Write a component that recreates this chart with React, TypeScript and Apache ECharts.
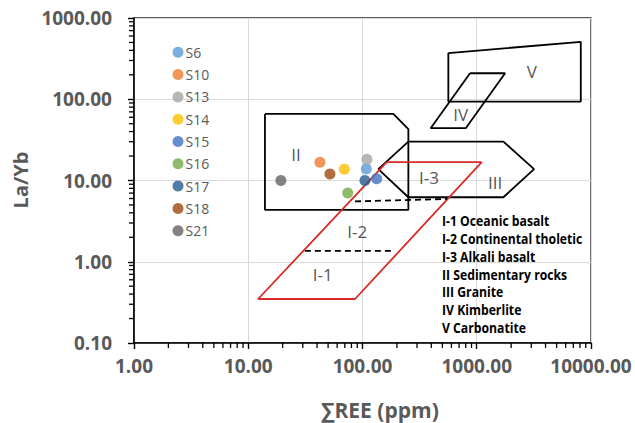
import React, { useEffect, useRef } from "react";
import * as echarts from "echarts";

// ---- sample data (ΣREE ppm, La/Yb) ----
const sampleNames = ["S6", "S10", "S13", "S14", "S15", "S16", "S17", "S18", "S21"];
const sampleREE = [108, 42.4, 109.4, 69.3, 133, 74.2, 105, 51.9, 19.3];
const sampleLaYb = [13.9, 16.8, 18.3, 13.8, 10.5, 7.0, 10.0, 12.0, 10.0];
const sampleColors = ["#5B9BD5", "#ED7D31", "#A5A5A5", "#FFC000", "#4472C4", "#70AD47", "#255E91", "#9E480E", "#636363"];

// ---- discrimination fields (vertices in ΣREE, La/Yb) ----
const fieldII = [[14.0, 66], [186, 66], [252, 42.9], [252, 4.35], [14.0, 4.35], [14.0, 66]];
const fieldIII = [[137.5, 13.8], [252, 30.1], [1710, 30.1], [3175, 13.8], [1710, 6.22], [252, 6.22], [137.5, 13.8]];
const fieldI = [[163, 16.8], [1106, 16.8], [86, 0.348], [12.2, 0.348], [163, 16.8]];
const fieldIV = [[873, 209], [1770, 209], [801, 44], [395, 44], [873, 209]];
const fieldV = [[564, 370], [8140, 509], [8140, 93.7], [564, 93.7], [564, 370]];
const dashI1I2 = [[31.3, 1.36], [186, 1.36]];
const dashI2I3 = [[86, 5.53], [550, 5.93]];

// ---- field labels ----
const fieldLabelNames = ["II", "I-3", "III", "I-2", "I-1", "V", "IV"];
const fieldLabelREE = [26.2, 382, 1445, 90, 44.8, 3030, 724];
const fieldLabelLaYb = [20.7, 10.9, 9.4, 2.39, 0.70, 219, 64.3];

const fieldNotes = [
  "I-1 Oceanic basalt",
  "I-2 Continental tholetic",
  "I-3 Alkali basalt",
  "II Sedimentary rocks",
  "III Granite",
  "IV Kimberlite",
  "V Carbonatite",
];

// ---- axes ----
const xMin = 1, xMax = 10000, yMin = 0.1, yMax = 1000;
const minorMultipliers = [2, 3, 4, 5, 6, 7, 8, 9];
const xDecades = [1, 10, 100, 1000];
const yDecades = [0.1, 1, 10, 100];
const xAxisName = "∑REE (ppm)";
const yAxisName = "La/Yb";

const FONT = "'Open Sans', 'DejaVu Sans', sans-serif";

export default function App() {
  const ref = useRef<HTMLDivElement>(null);
  useEffect(() => {
    if (!ref.current) return;
    const chart = echarts.init(ref.current, null, { renderer: "svg" });

    const xMinor: number[][] = [];
    xDecades.forEach((d) => minorMultipliers.forEach((m) => xMinor.push([m * d, yMin])));
    const yMinor: number[][] = [];
    yDecades.forEach((d) => minorMultipliers.forEach((m) => yMinor.push([xMin, +(m * d).toPrecision(3)])));

    const polyLine = (data: number[][], color: string, dashed = false) => ({
      type: "line",
      data,
      symbol: "none",
      silent: true,
      z: 3,
      lineStyle: { color, width: 1.8, type: dashed ? [6, 4] : "solid" },
    });

    const gridLeft = 134, gridTop = 18, gridW = 457, gridH = 325;

    const option: any = {
      animation: false,
      backgroundColor: "#ffffff",
      grid: {
        left: gridLeft,
        top: gridTop,
        width: gridW,
        height: gridH,
        show: true,
        borderColor: "#262626",
        borderWidth: 1.3,
        containLabel: false,
      },
      legend: {
        orient: "vertical",
        left: 172.5,
        top: 45.3,
        padding: 0,
        itemWidth: 11,
        itemHeight: 11,
        itemGap: 8.3,
        icon: "circle",
        data: sampleNames,
        textStyle: { color: "#595959", fontSize: 14, fontFamily: FONT, lineHeight: 14, padding: [0, 0, 0, -3] },
      },
      xAxis: {
        type: "log",
        logBase: 10,
        min: xMin,
        max: xMax,
        axisLine: { show: true, lineStyle: { color: "#000", width: 1.6 } },
        axisTick: { show: true, length: 6, lineStyle: { color: "#000", width: 1.4 } },
        axisLabel: {
          color: "#595959",
          fontSize: 19,
          fontWeight: "bold",
          fontFamily: FONT,
          margin: 13,
          formatter: (v: number) => v.toFixed(2),
        },
        splitLine: { show: true, lineStyle: { color: "#d9d9d9", width: 1 } },
      },
      yAxis: {
        type: "log",
        logBase: 10,
        min: yMin,
        max: yMax,
        axisLine: { show: true, lineStyle: { color: "#000", width: 1.6 } },
        axisTick: { show: true, length: 6, lineStyle: { color: "#000", width: 1.4 } },
        axisLabel: {
          color: "#595959",
          fontSize: 19,
          fontWeight: "bold",
          fontFamily: FONT,
          margin: 22,
          formatter: (v: number) => v.toFixed(2),
        },
        splitLine: { show: true, lineStyle: { color: "#d9d9d9", width: 1 } },
      },
      graphic: [
        {
          type: "text",
          x: 20,
          y: 180,
          rotation: Math.PI / 2,
          style: {
            text: yAxisName,
            fill: "#595959",
            font: `bold 20px ${FONT}`,
            align: "center",
            verticalAlign: "middle",
          },
        },
        {
          type: "text",
          x: 380,
          y: 410,
          style: {
            text: xAxisName,
            fill: "#595959",
            font: `bold 21px ${FONT}`,
            align: "center",
            verticalAlign: "middle",
          },
        },
        ...fieldNotes.map((t, i) => ({
          type: "text",
          x: 442,
          y: 220.7 + i * 17.83,
          scaleX: 0.872,
          z: 10,
          style: {
            text: t,
            fill: "#000",
            font: `bold 14px ${FONT}`,
            align: "left",
            verticalAlign: "middle",
          },
        })),
      ],
      series: [
        polyLine(fieldII, "#000"),
        polyLine(fieldIII, "#000"),
        polyLine(fieldIV, "#000"),
        polyLine(fieldV, "#000"),
        polyLine(fieldI, "#DA2A26"),
        polyLine(dashI1I2, "#000", true),
        polyLine(dashI2I3, "#000", true),
        {
          type: "scatter",
          symbolSize: 0,
          silent: true,
          z: 4,
          data: fieldLabelNames.map((n, i) => ({ name: n, value: [fieldLabelREE[i], fieldLabelLaYb[i]] })),
          label: {
            show: true,
            position: "inside",
            formatter: (p: any) => p.name,
            color: "#262626",
            fontSize: 17,
            fontFamily: FONT,
          },
        },
        {
          type: "custom",
          silent: true,
          z: 6,
          data: xMinor,
          renderItem: (_p: any, api: any) => {
            const pt = api.coord([api.value(0), api.value(1)]);
            return {
              type: "line",
              shape: { x1: pt[0], y1: pt[1], x2: pt[0], y2: pt[1] + 5 },
              style: { stroke: "#000", lineWidth: 1.3 },
            };
          },
        },
        {
          type: "custom",
          silent: true,
          z: 6,
          data: yMinor,
          renderItem: (_p: any, api: any) => {
            const pt = api.coord([api.value(0), api.value(1)]);
            return {
              type: "line",
              shape: { x1: pt[0], y1: pt[1], x2: pt[0] - 5, y2: pt[1] },
              style: { stroke: "#000", lineWidth: 1.3 },
            };
          },
        },
        ...sampleNames.map((n, i) => ({
          type: "scatter",
          name: n,
          z: 8,
          symbol: "circle",
          symbolSize: 11,
          itemStyle: { color: sampleColors[i] },
          data: [[sampleREE[i], sampleLaYb[i]]],
        })),
      ],
    };
    chart.setOption(option);
    return () => chart.dispose();
  }, []);
  return <div ref={ref} style={{ position: "absolute", left: 0, top: 0, width: 635, height: 423 }} />;
}
